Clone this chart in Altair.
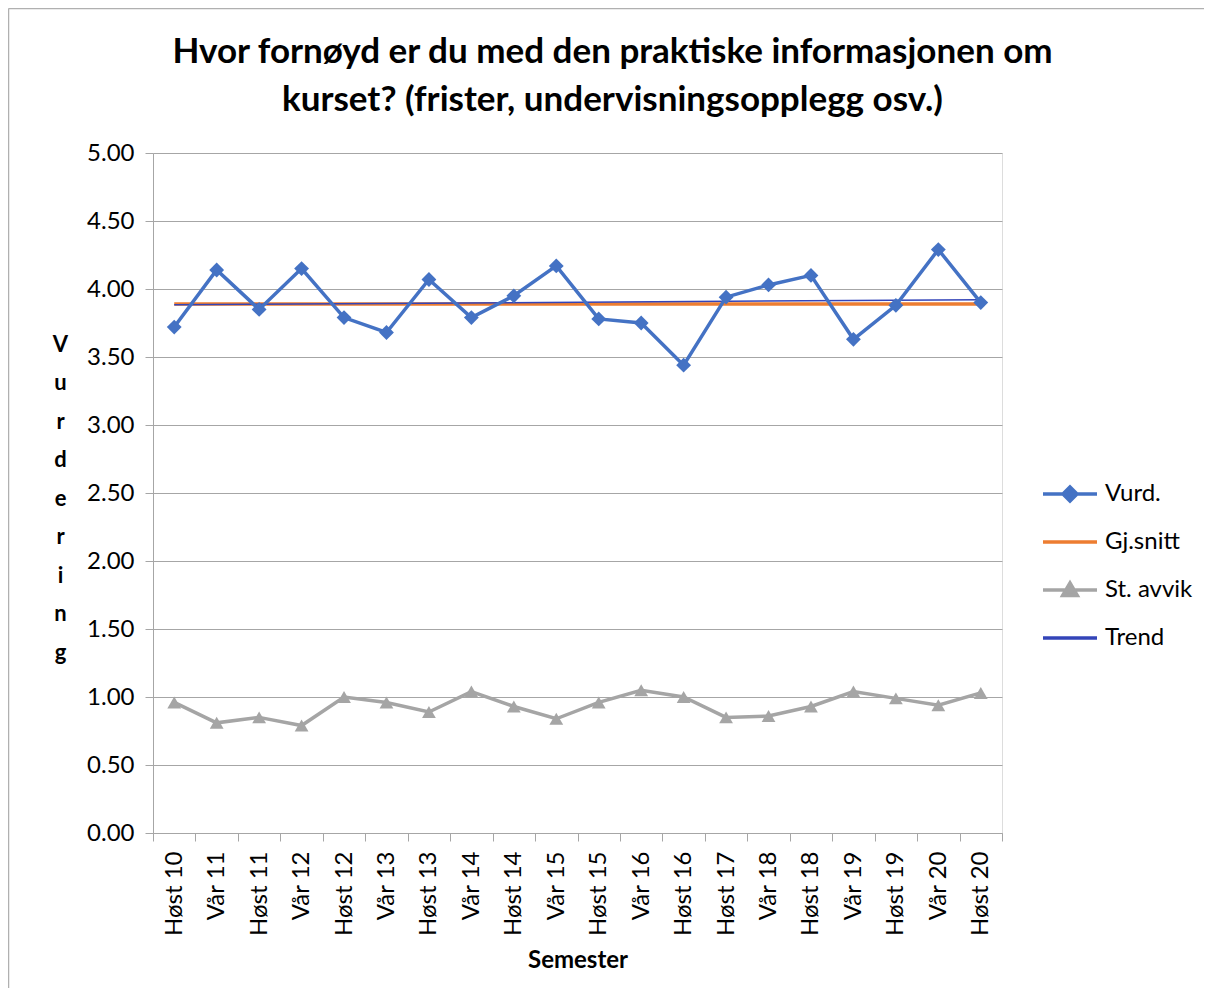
import json
import altair as alt
import pandas as pd

semesters = ["Høst 10", "Vår 11", "Høst 11", "Vår 12", "Høst 12", "Vår 13", "Høst 13",
             "Vår 14", "Høst 14", "Vår 15", "Høst 15", "Vår 16", "Høst 16", "Høst 17",
             "Vår 18", "Høst 18", "Vår 19", "Høst 19", "Vår 20", "Høst 20"]
vurd = [3.72, 4.14, 3.85, 4.15, 3.79, 3.68, 4.07, 3.79, 3.95, 4.17,
        3.78, 3.75, 3.44, 3.94, 4.03, 4.10, 3.63, 3.88, 4.29, 3.90]
gj_snitt = [3.89, 3.89, 3.89, 3.89, 3.89, 3.89, 3.89, 3.89, 3.89, 3.89,
            3.89, 3.89, 3.89, 3.89, 3.89, 3.89, 3.89, 3.89, 3.89, 3.89]
st_avvik = [0.96, 0.81, 0.85, 0.79, 1.00, 0.96, 0.89, 1.04, 0.93, 0.84,
            0.96, 1.05, 1.00, 0.85, 0.86, 0.93, 1.04, 0.99, 0.94, 1.03]
y_ticks = [0, 0.5, 1.0, 1.5, 2.0, 2.5, 3.0, 3.5, 4.0, 4.5, 5.0]

series_names = ["Vurd.", "Gj.snitt", "St. avvik", "Trend"]
series_colors = ["#4472C4", "#ED7D31", "#A5A5A5", "#3344B8"]
legend_paths = [
    "M-1,0L1,0M-0.26,0L0,-0.26L0.26,0L0,0.26Z",
    "M-1,0L1,0",
    "M-1,0L1,0M-0.27,0.2L0,-0.26L0.27,0.2Z",
    "M-1,0L1,0",
]
legend_widths = [3.5, 3.5, 3.5, 1.5]

rows = []
for i, s in enumerate(semesters):
    rows.append({"i": i, "sem": s, "series": "Vurd.", "v": vurd[i]})
    rows.append({"i": i, "sem": s, "series": "Gj.snitt", "v": gj_snitt[i]})
    rows.append({"i": i, "sem": s, "series": "St. avvik", "v": st_avvik[i]})
df = pd.DataFrame(rows)

FONT = "Lato"
GRID = "#A6A6A6"

x_enc = alt.X(
    "sem:N", sort=semesters,
    scale=alt.Scale(type="band", paddingInner=0, paddingOuter=0),
    axis=alt.Axis(
        title="Semester", titleFontSize=24, titleFontWeight="bold", titleColor="black",
        titleFont=FONT, titlePadding=13,
        labelAngle=270, labelAlign="right", labelBaseline="middle", labelFontSize=24,
        labelFont=FONT, labelColor="black", labelPadding=10,
        tickBand="extent", ticks=True, tickSize=8, tickColor=GRID, tickWidth=1,
        domainColor=GRID, domainWidth=1, grid=False,
    ),
)
y_enc = alt.Y(
    "v:Q",
    scale=alt.Scale(domain=[0, 5], nice=False),
    axis=alt.Axis(
        values=y_ticks, format=".2f", labelFontSize=24, labelFont=FONT, labelColor="black",
        labelPadding=11, tickSize=8, tickColor=GRID, domainColor=GRID, grid=True,
        gridColor=GRID, gridWidth=1,
        title=["V", "u", "r", "d", "e", "r", "i", "n", "g"], titleAngle=0,
        titleAlign="center", titleBaseline="top", titleX=-93, titleY=181,
        titleLineHeight=38.5, titleFontSize=22, titleFontWeight="bold", titleFont=FONT,
        titleColor="black",
    ),
)

base = alt.Chart(df)

frame_src = alt.Chart(pd.DataFrame({"a": [0]}))
frame_top = frame_src.mark_rule(color="#B0B0B0", strokeWidth=1.5).encode(
    x=alt.value(-144.5), x2=alt.value(1100), y=alt.value(-144.5))
frame_left = frame_src.mark_rule(color="#B0B0B0", strokeWidth=1.5).encode(
    x=alt.value(-144.5), y=alt.value(-144.5), y2=alt.value(900))

gj_line = base.transform_filter(alt.datum.series == "Gj.snitt").mark_line(
    color="#ED7D31", strokeWidth=3.5).encode(x=x_enc, y=y_enc)

trend_line = alt.Chart(df).transform_filter(alt.datum.series == "Vurd.").transform_regression(
    "i", "v").transform_calculate(
    sem="%s[round(datum.i)]" % json.dumps(semesters, ensure_ascii=False)
).mark_line(color="#3344B8", strokeWidth=1.5).encode(x=x_enc, y=y_enc)

vurd_line = base.transform_filter(alt.datum.series == "Vurd.").mark_line(
    color="#4472C4", strokeWidth=3.5).encode(x=x_enc, y=y_enc)
vurd_pts = base.transform_filter(alt.datum.series == "Vurd.").mark_point(
    shape="diamond", filled=True, size=220, color="#4472C4", opacity=1).encode(x=x_enc, y=y_enc)

st_line = base.transform_filter(alt.datum.series == "St. avvik").mark_line(
    color="#A5A5A5", strokeWidth=3.5).encode(x=x_enc, y=y_enc)
st_pts = base.transform_filter(alt.datum.series == "St. avvik").mark_point(
    shape="triangle-up", filled=True, size=190, color="#A5A5A5", opacity=1).encode(x=x_enc, y=y_enc)

leg = alt.Legend(
    title=None, orient="none", legendX=888, legendY=317, symbolSize=2916,
    symbolOpacity=1, labelFontSize=24, labelFont=FONT, labelColor="black",
    clipHeight=48, rowPadding=0, labelOffset=6,
)
legend_layer = base.mark_point(filled=True, opacity=0).encode(
    x=x_enc, y=y_enc,
    color=alt.Color("series:N", scale=alt.Scale(domain=series_names, range=series_colors), legend=leg),
    stroke=alt.Stroke("series:N", scale=alt.Scale(domain=series_names, range=series_colors), legend=leg),
    shape=alt.Shape("series:N", scale=alt.Scale(domain=series_names, range=legend_paths), legend=leg),
    strokeWidth=alt.StrokeWidth("series:N", scale=alt.Scale(domain=series_names, range=legend_widths), legend=leg),
)

chart = alt.layer(
    frame_top, frame_left, gj_line, trend_line, vurd_line, st_line, vurd_pts, st_pts, legend_layer
).properties(
    width=849, height=680,
    autosize=alt.AutoSizeParams(type="none"),
    padding={"left": 145, "top": 145, "right": 202, "bottom": 155},
    title=alt.TitleParams(
        text=["Hvor fornøyd er du med den praktiske informasjonen om",
              "kurset? (frister, undervisningsopplegg osv.)"],
        fontSize=35, fontWeight="bold", font=FONT, color="black", anchor="middle",
        frame="group", dx=35, dy=178, baseline="alphabetic", lineHeight=48, offset=40,
    ),
).configure_view(stroke=None).configure(background="white")

chart.save("out.html", embed_options={"renderer": "svg", "actions": False})
